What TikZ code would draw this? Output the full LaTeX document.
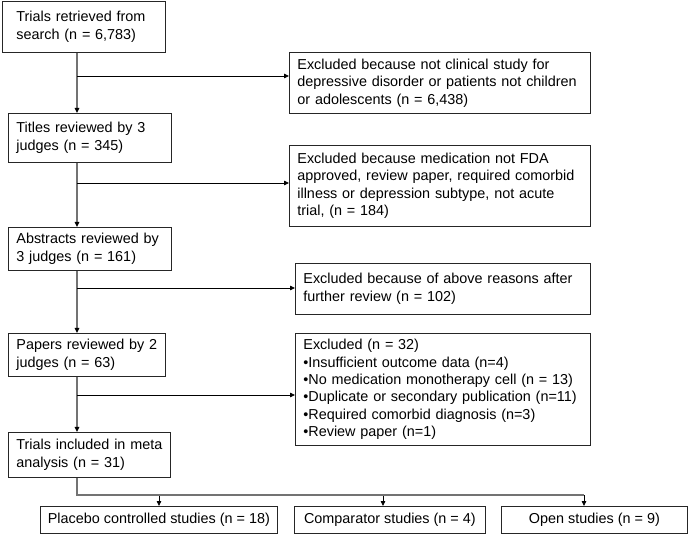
\documentclass[tikz,border=0pt]{standalone}
\usepackage{fontspec}
\setmainfont{Liberation Sans}
\usetikzlibrary{arrows.meta}

\begin{document}
\begin{tikzpicture}[
    x=1pt, y=-1pt,
    box/.style={
      draw=black!85,
      line width=0.8pt,
      anchor=north west,
      align=left,
      inner xsep=8pt,
      inner ysep=2pt,
      font=\fontsize{14.4}{17.4}\selectfont
    },
    trunk/.style={draw=black!55, line width=1.4pt},
    branch/.style={draw=black, line width=0.8pt},
    tip/.style={-{Triangle[length=5pt,width=4.5pt,color=black]}}
  ]
  \useasboundingbox (0,0) rectangle (691,534);

  % Main column
  \node[box, inner xsep=14pt, text width=135pt, minimum height=51pt] (search) at (2,1)
    {Trials retrieved from\\search (n = 6,783)};
  \node[box, text width=147pt, minimum height=49pt] (titles) at (8,113)
    {Titles reviewed by 3\\judges (n = 345)};
  \node[box, text width=147pt, minimum height=43pt] (abstracts) at (8,227)
    {Abstracts reviewed by\\3 judges (n = 161)};
  \node[box, text width=141pt, minimum height=43pt] (papers) at (8,333)
    {Papers reviewed by 2\\judges (n = 63)};
  \node[box, text width=146pt, minimum height=45pt] (included) at (8,432)
    {Trials included in meta\\analysis (n = 31)};

  % Exclusions
  \node[box, text width=285pt, minimum height=61pt] (excl1) at (289,52)
    {Excluded because not clinical study for\\depressive disorder or patients not children\\or adolescents (n = 6,438)};
  \node[box, text width=285pt, minimum height=81pt] (excl2) at (289,145)
    {Excluded because medication not FDA\\approved, review paper, required comorbid\\illness or depression subtype, not acute\\trial, (n = 184)};
  \node[box, text width=279pt, minimum height=51pt] (excl3) at (295,263)
    {Excluded because of above reasons after\\further review (n = 102)};
  \node[box, text width=279pt, minimum height=112pt] (excl4) at (295,333)
    {Excluded (n = 32)\\
     •Insufficient outcome data (n=4)\\
     •No medication monotherapy cell (n = 13)\\
     •Duplicate or secondary publication (n=11)\\
     •Required comorbid diagnosis (n=3)\\
     •Review paper (n=1)};

  % Study types
  \node[box, align=center, inner xsep=2pt, minimum width=237pt, minimum height=27pt] (placebo) at (40,506)
    {Placebo controlled studies (n = 18)};
  \node[box, align=center, inner xsep=2pt, minimum width=191pt, minimum height=27pt] (comparator) at (294,506)
    {Comparator studies (n = 4)};
  \node[box, align=center, inner xsep=2pt, minimum width=186pt, minimum height=27pt] (open) at (501,506)
    {Open studies (n = 9)};

  % Trunk and branches
  \coordinate (trunk) at (77,0);
  \draw[trunk, tip] (search.south -| trunk) -- (titles.north -| trunk);
  \draw[trunk, tip] (titles.south -| trunk) -- (abstracts.north -| trunk);
  \draw[trunk, tip] (abstracts.south -| trunk) -- (papers.north -| trunk);
  \draw[trunk, tip] (papers.south -| trunk) -- (included.north -| trunk);

  \coordinate (b1) at (77,76);
  \coordinate (b2) at (77,183);
  \coordinate (b3) at (77,288);
  \coordinate (b4) at (77,395);
  \draw[branch, tip] (b1) -- (b1 -| excl1.west);
  \draw[branch, tip] (b2) -- (b2 -| excl2.west);
  \draw[branch, tip] (b3) -- (b3 -| excl3.west);
  \draw[branch, tip] (b4) -- (b4 -| excl4.west);

  % Split into study types
  \foreach \x/\n in {159/placebo, 383/comparator, 584/open} {
    \coordinate (drop-\n) at (\x,495);
    \draw[branch, tip] (drop-\n) -- (drop-\n |- \n.north);
  }
  \draw[trunk] (included.south -| trunk) |- (drop-open);
\end{tikzpicture}
\end{document}
